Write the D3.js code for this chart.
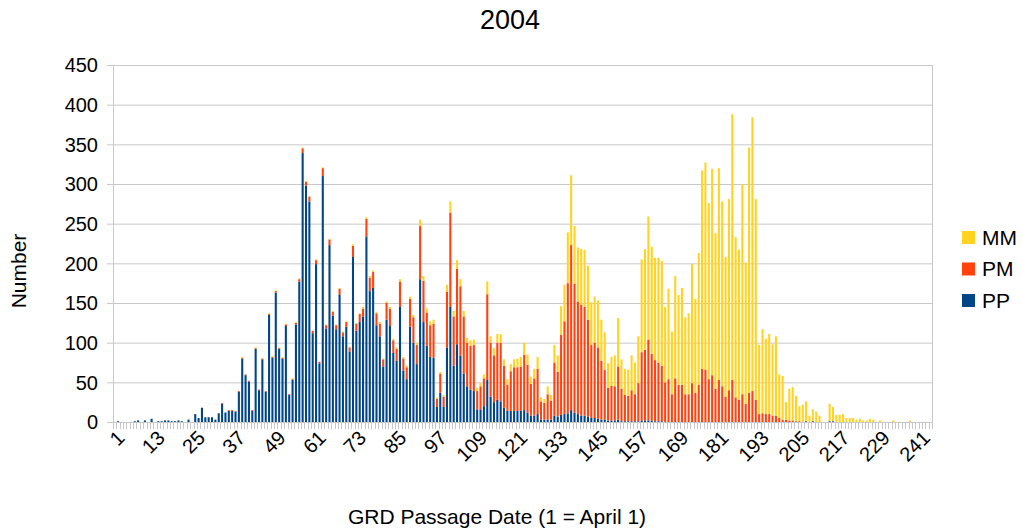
<!DOCTYPE html>
<html><head><meta charset="utf-8">
<script src="https://cdn.jsdelivr.net/npm/d3@7"></script>
<style>body{margin:0;background:#fff}svg{display:block;font-family:"Liberation Sans",Arial,sans-serif}</style>
</head><body>
<svg id="c" width="1022" height="531"></svg>
<script>
const title = "2004";
const seriesNames = ["PP", "PM", "MM"];
const seriesColors = ["#004586", "#ff420e", "#ffd320"];
const yTicks = [0, 50, 100, 150, 200, 250, 300, 350, 400, 450];
const xTickLabels = ["1","13","25","37","49","61","73","85","97","109","121","133","145","157","169","181","193","205","217","229","241"];
const days = d3.range(1, 245);

const PP = [
0,1,0,0,0,0,1,2,0,2,
0,4,0,1,1,2,2,1,1,2,
1,0,3,0,10,5,18,6,6,6,
3,11,23,12,14,14,13,38,80,59,
51,14,92,40,79,38,135,81,163,92,
80,121,34,53,123,177,339,298,278,112,
199,74,310,118,223,134,117,161,108,120,
89,208,115,126,133,234,165,169,122,108,
70,129,121,87,77,145,65,54,120,100,
73,180,126,96,82,81,19,37,19,94,
145,71,98,84,61,45,41,39,16,16,
20,53,32,25,28,26,18,14,14,14,
14,14,15,12,8,8,10,3,3,3,
3,8,7,9,10,11,15,12,10,8,
8,7,5,5,4,3,3,2,2,2,
3,1,1,1,1,1,1,2,2,2,
2,1,1,1,0,0,0,0,0,0,
0,0,0,0,0,0,0,0,0,0,
0,0,0,0,0,0,0,0,0,0,
0,0,0,0,0,0,0,0,0,0,
0,0,0,0,0,0,1,0,1,0,
0,0,0,1,1,0,0,0,0,0,
0,0,0,0,0,0,0,0,0,0,
0,0,0,0,0,0,0,0,0,0,
0,0,0,0];
const PM = [
0,0,0,0,0,0,0,0,0,0,
0,0,0,0,0,0,0,0,0,0,
0,0,0,0,0,0,0,0,0,0,
0,0,1,0,1,1,1,1,1,1,
1,1,1,1,1,1,1,1,2,1,
1,2,1,1,2,3,6,5,6,3,
5,2,10,4,7,5,5,7,5,6,
5,14,9,10,10,22,17,20,15,16,
9,21,22,16,15,32,15,15,35,32,
24,67,52,42,40,43,10,24,13,70,
119,62,95,87,72,55,55,58,23,29,
35,108,68,59,72,74,53,33,50,55,
55,56,70,60,40,47,57,23,21,32,
24,67,56,101,117,164,208,162,142,140,
137,122,92,95,90,74,63,41,44,43,
67,41,33,32,39,34,48,86,89,102,
84,77,74,70,50,54,35,55,47,47,
35,35,49,37,47,67,66,54,59,42,
53,45,32,40,53,31,28,35,23,37,
39,28,10,11,10,10,8,8,5,3,
3,2,2,1,1,0,0,0,0,0,
0,0,0,0,0,0,0,0,0,0,
0,0,0,0,0,0,0,0,0,0,
0,0,0,0,0,0,0,0,0,0,
0,0,0,0];
const MM = [
0,0,0,0,0,0,0,0,0,0,
0,0,0,0,0,0,0,0,0,0,
0,0,0,0,0,0,0,0,0,0,
0,0,0,0,0,0,0,0,1,0,
0,0,1,0,1,0,1,1,1,1,
1,1,0,1,1,1,1,1,1,0,
1,0,1,1,1,1,1,1,1,1,
1,2,1,1,2,2,2,2,2,2,
1,2,2,2,2,3,2,2,3,3,
3,8,6,5,5,5,2,2,2,9,
14,7,11,9,7,6,7,7,4,4,
5,16,8,9,11,11,8,7,9,10,
11,12,15,13,9,12,15,5,5,10,
7,22,21,36,46,64,88,73,68,70,
72,68,54,58,59,52,47,31,36,39,
61,37,33,33,44,40,59,117,127,155,
135,129,132,132,95,114,79,129,113,122,
97,102,150,118,166,250,261,222,260,196,
267,233,176,241,335,202,189,265,178,309,
345,253,87,106,95,101,90,100,55,55,
22,40,42,32,19,22,25,8,15,13,
8,0,0,22,18,9,9,10,5,5,
5,3,4,2,2,4,3,0,2,0,
0,0,2,0,0,0,0,2,0,0,
0,0,0,0];

const svg = d3.select("#c");
const L = 113, R = 932, T = 65, B = 422;
const table = days.map((d, i) => ({day: d, PP: PP[i], PM: PM[i], MM: MM[i]}));
const x = d3.scaleBand().domain(days).range([L, R]).paddingInner(0.38).paddingOuter(0.19);
const y = d3.scaleLinear().domain([0, 450]).range([B, T]);
const grid = "#c8c8c8";

// grid
svg.append("g").selectAll("line").data(yTicks).join("line")
  .attr("x1", L - 6).attr("x2", R).attr("y1", d => y(d) + 0.5).attr("y2", d => y(d) + 0.5)
  .attr("stroke", grid).attr("stroke-width", 1);
svg.append("line").attr("x1", L + 0.5).attr("x2", L + 0.5).attr("y1", T).attr("y2", B)
  .attr("stroke", grid);
svg.append("line").attr("x1", R + 0.5).attr("x2", R + 0.5).attr("y1", T).attr("y2", B)
  .attr("stroke", grid);

// x category ticks
const step = x.step();
svg.append("g").selectAll("line").data(days.concat([days.length + 1])).join("line")
  .attr("x1", (d, i) => Math.round(L + i * step) + 0.5)
  .attr("x2", (d, i) => Math.round(L + i * step) + 0.5)
  .attr("y1", B).attr("y2", B + 7).attr("stroke", grid);

// stacked bars
const stack = d3.stack().keys(seriesNames)(table);
svg.append("g").selectAll("g").data(stack).join("g")
  .attr("fill", (d, i) => seriesColors[i])
  .selectAll("rect").data(d => d).join("rect")
  .attr("x", d => x(d.data.day))
  .attr("width", x.bandwidth())
  .attr("y", d => y(d[1]))
  .attr("height", d => Math.max(0, y(d[0]) - y(d[1])));

// y tick labels
svg.append("g").selectAll("text").data(yTicks).join("text")
  .attr("x", 98).attr("y", d => y(d)).attr("dy", "0.36em")
  .attr("text-anchor", "end").attr("font-size", 20).text(d => d);

// x tick labels
svg.append("g").selectAll("text").data(xTickLabels).join("text")
  .attr("transform", d => `translate(${x(+d) + x.bandwidth() / 2 + 6},${B + 12}) rotate(-45)`)
  .attr("text-anchor", "end").attr("dy", "0.36em").attr("font-size", 20).text(d => d);

// titles
svg.append("text").attr("x", 510).attr("y", 29).attr("text-anchor", "middle")
  .attr("font-size", 27).text(title);
svg.append("text").attr("transform", "translate(26,271) rotate(-90)")
  .attr("text-anchor", "middle").attr("font-size", 21).text("Number");
svg.append("text").attr("x", 497).attr("y", 524).attr("text-anchor", "middle")
  .attr("font-size", 21).text("GRD Passage Date (1 = April 1)");

// legend (reverse order: MM, PM, PP)
const leg = [2, 1, 0];
const lg = svg.append("g").selectAll("g").data(leg).join("g")
  .attr("transform", (d, i) => `translate(962,${237 + i * 31.5})`);
lg.append("rect").attr("x", 0).attr("y", -6).attr("width", 13).attr("height", 13)
  .attr("fill", d => seriesColors[d]);
lg.append("text").attr("x", 20).attr("dy", "0.36em").attr("font-size", 21)
  .text(d => seriesNames[d]);
</script>
</body></html>
